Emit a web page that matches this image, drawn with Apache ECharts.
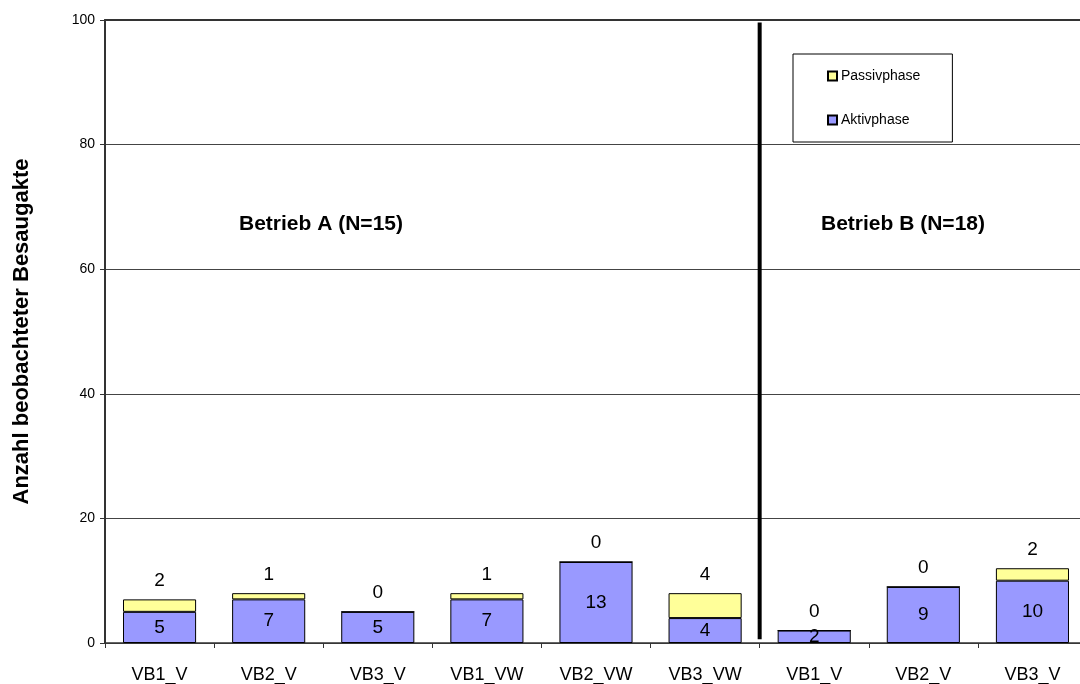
<!DOCTYPE html>
<html>
<head>
<meta charset="utf-8">
<script src="https://cdn.jsdelivr.net/npm/echarts@6/dist/echarts.min.js"></script>
<style>
  html, body { margin: 0; padding: 0; background: #fff; overflow: hidden; }
  /* the plot area runs slightly past the right edge of the window */
  #chart { width: 1090px; height: 684px; }
</style>
</head>
<body>
<div id="chart"></div>
<script>
// Observed suction events per test run, split by phase
const categories = ['VB1_V', 'VB2_V', 'VB3_V', 'VB1_VW', 'VB2_VW', 'VB3_VW', 'VB1_V', 'VB2_V', 'VB3_V'];
const aktivphase = [5, 7, 5, 7, 13, 4, 2, 9, 10];
const passivphase = [2, 1, 0, 1, 0, 4, 0, 0, 2];
const yTicks = [0, 20, 40, 60, 80, 100];
// Divider between the two farms: after the sixth category
const dividerAt = 6;
const groupLabels = ['Betrieb A (N=15)', 'Betrieb B (N=18)'];

const FONT = '"Liberation Sans", Arial, sans-serif';

const chart = echarts.init(document.getElementById('chart'), null, { renderer: 'canvas' });

chart.setOption({
  animation: false,
  backgroundColor: '#ffffff',
  textStyle: { fontFamily: FONT, color: '#000' },
  grid: { left: 105, right: 3, top: 20, bottom: 40, containLabel: false },
  legend: {
    data: ['Passivphase', 'Aktivphase'],
    orient: 'vertical',
    left: 793,
    top: 54,
    padding: [15, 32, 15, 34],
    itemGap: 30,
    itemWidth: 9,
    itemHeight: 9,
    icon: 'rect',
    borderColor: '#000',
    borderWidth: 1,
    backgroundColor: '#fff',
    textStyle: { fontFamily: FONT, fontSize: 14, color: '#000', padding: [0, 0, 0, -1] }
  },
  xAxis: [
    {
      type: 'category',
      data: categories,
      axisLine: { lineStyle: { color: '#333', width: 1.5 } },
      axisTick: { show: true, length: 5, lineStyle: { color: '#333' } },
      axisLabel: { fontFamily: FONT, fontSize: 18, color: '#000', margin: 23, interval: 0 },
      splitLine: { show: false }
    },
    {
      // helper axis spanning the category slots, used for the divider and top border
      type: 'value',
      position: 'top',
      min: 0,
      max: categories.length,
      axisLine: { show: true, onZero: false, lineStyle: { color: '#333', width: 2 } },
      axisTick: { show: false },
      axisLabel: { show: false },
      splitLine: { show: false }
    }
  ],
  yAxis: {
    type: 'value',
    min: yTicks[0],
    max: yTicks[yTicks.length - 1],
    interval: 20,
    name: 'Anzahl beobachteter Besaugakte',
    nameLocation: 'middle',
    nameGap: 72,
    nameTextStyle: { fontFamily: FONT, fontSize: 22, fontWeight: 'bold', color: '#000' },
    axisLine: { show: true, lineStyle: { color: '#333', width: 2 } },
    axisTick: { show: true, length: 5, lineStyle: { color: '#333' } },
    axisLabel: { fontFamily: FONT, fontSize: 14, color: '#000', margin: 10 },
    splitLine: { show: true, lineStyle: { color: '#444', width: 1 } }
  },
  series: [
    {
      name: 'Aktivphase',
      type: 'bar',
      stack: 'phase',
      xAxisIndex: 0,
      barWidth: '67%',
      data: aktivphase,
      itemStyle: { color: '#9999ff', borderColor: '#000', borderWidth: 1 },
      label: { show: true, position: 'inside', fontFamily: FONT, fontSize: 19, color: '#000' },
      z: 3
    },
    {
      name: 'Passivphase',
      type: 'bar',
      stack: 'phase',
      xAxisIndex: 0,
      barWidth: '67%',
      data: passivphase,
      itemStyle: { color: '#ffff99', borderColor: '#000', borderWidth: 1 },
      label: { show: true, position: 'top', distance: 9, fontFamily: FONT, fontSize: 19, color: '#000' },
      z: 3
    },
    {
      name: 'divider',
      type: 'line',
      xAxisIndex: 1,
      data: [[dividerAt, 0.6], [dividerAt, 99.6]],
      symbol: 'none',
      silent: true,
      lineStyle: { color: '#000', width: 4 },
      z: 5
    }
  ],
  graphic: [
    {
      type: 'text',
      x: 321, y: 224,
      style: { text: groupLabels[0], font: 'bold 21px ' + FONT, fill: '#000', textAlign: 'center', textVerticalAlign: 'middle' }
    },
    {
      type: 'text',
      x: 903, y: 224,
      style: { text: groupLabels[1], font: 'bold 21px ' + FONT, fill: '#000', textAlign: 'center', textVerticalAlign: 'middle' }
    }
  ]
});
</script>
</body>
</html>
